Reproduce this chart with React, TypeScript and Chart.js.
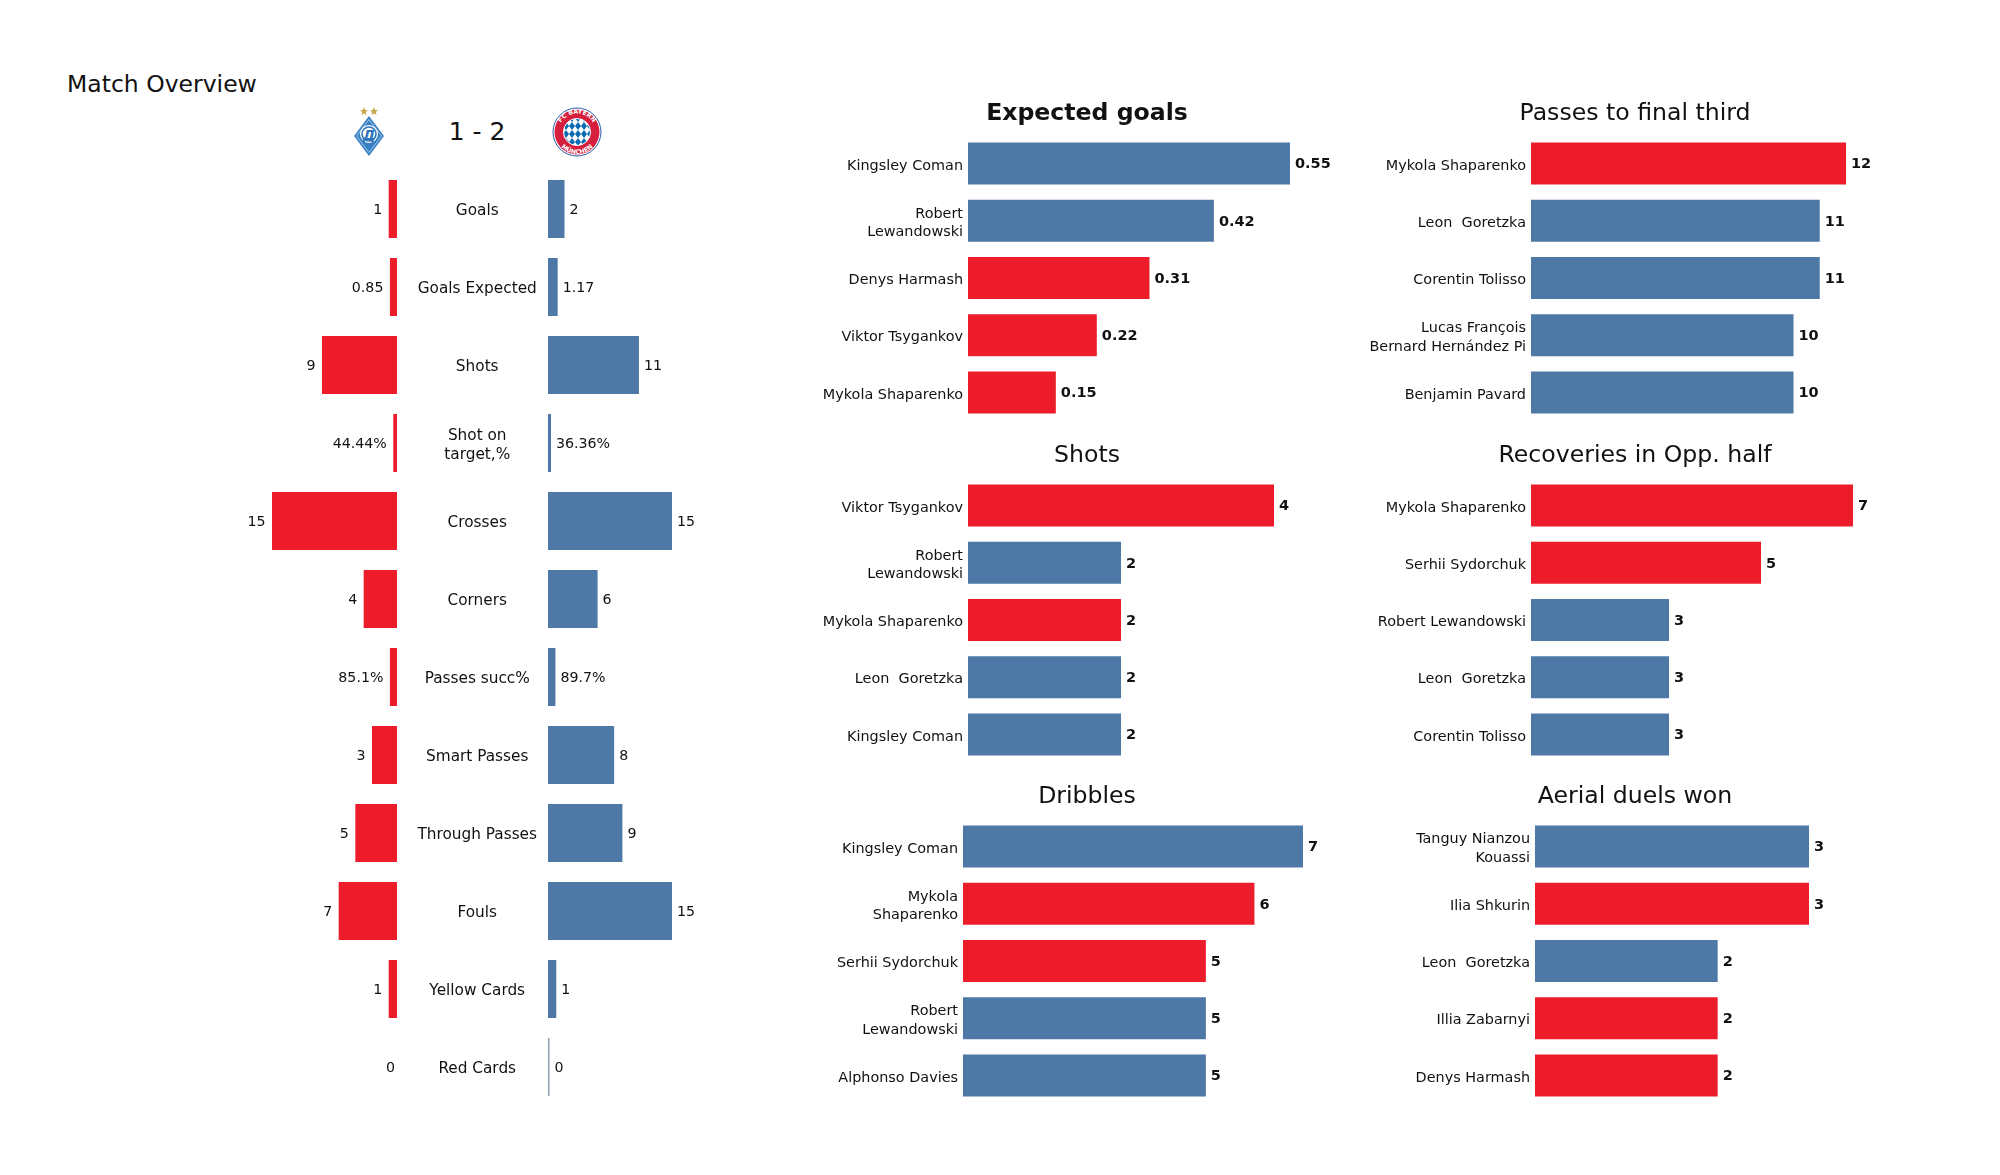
import React, { useEffect, useRef } from "react";
import { Chart, registerables } from "chart.js";

Chart.register(...registerables);

const RED = "#ec1c2b";
const BLUE = "#4e78a6";
const ZERO_LINE = "#8d9db5";
const FONT = "'DejaVu Sans'";

const statLabels: (string | string[])[] = ["Goals", "Goals Expected", "Shots", ["Shot on", "target,%"], "Crosses", "Corners", "Passes succ%", "Smart Passes", "Through Passes", "Fouls", "Yellow Cards", "Red Cards"];
const homeBarValues = [1, 0.85, 9, 0.4444, 15, 4, 0.851, 3, 5, 7, 1, 0];
const awayBarValues = [2, 1.17, 11, 0.3636, 15, 6, 0.897, 8, 9, 15, 1, 0];
const homeTexts = ["1", "0.85", "9", "44.44%", "15", "4", "85.1%", "3", "5", "7", "1", "0"];
const awayTexts = ["2", "1.17", "11", "36.36%", "15", "6", "89.7%", "8", "9", "15", "1", "0"];

const xgNames: (string | string[])[] = ["Kingsley Coman", ["Robert", "Lewandowski"], "Denys Harmash", "Viktor Tsygankov", "Mykola Shaparenko"];
const xgValues = [0.55, 0.42, 0.31, 0.22, 0.15];
const xgTeams = ["a", "a", "h", "h", "h"];

const passNames: (string | string[])[] = ["Mykola Shaparenko", "Leon  Goretzka", "Corentin Tolisso", ["Lucas François", "Bernard Hernández Pi"], "Benjamin Pavard"];
const passValues = [12, 11, 11, 10, 10];
const passTeams = ["h", "a", "a", "a", "a"];

const shotNames: (string | string[])[] = ["Viktor Tsygankov", ["Robert", "Lewandowski"], "Mykola Shaparenko", "Leon  Goretzka", "Kingsley Coman"];
const shotValues = [4, 2, 2, 2, 2];
const shotTeams = ["h", "a", "h", "a", "a"];

const recNames: (string | string[])[] = ["Mykola Shaparenko", "Serhii Sydorchuk", "Robert Lewandowski", "Leon  Goretzka", "Corentin Tolisso"];
const recValues = [7, 5, 3, 3, 3];
const recTeams = ["h", "h", "a", "a", "a"];

const dribNames: (string | string[])[] = ["Kingsley Coman", ["Mykola", "Shaparenko"], "Serhii Sydorchuk", ["Robert", "Lewandowski"], "Alphonso Davies"];
const dribValues = [7, 6, 5, 5, 5];
const dribTeams = ["a", "h", "h", "a", "a"];

const aerialNames: (string | string[])[] = [["Tanguy Nianzou", "Kouassi"], "Ilia Shkurin", "Leon  Goretzka", "Illia Zabarnyi", "Denys Harmash"];
const aerialValues = [3, 3, 2, 2, 2];
const aerialTeams = ["a", "h", "a", "h", "h"];

type Panel = { title: string; bold?: boolean; names: (string | string[])[]; values: number[]; teams: string[]; cx: number; L: number; x0: number; x1: number; top: number };

const PLOT_H = 286;
const ROW = PLOT_H / 5;
const HEAD = 36;
const TITLE_SIZE = 23.6;
const RIGHT_ROOM = 70;

const panels: Panel[] = [
  { title: "Expected goals", bold: true, names: xgNames, values: xgValues, teams: xgTeams, cx: 1087, L: 800, x0: 968, x1: 1290, top: 135 },
  { title: "Passes to final third", names: passNames, values: passValues, teams: passTeams, cx: 1635, L: 1340, x0: 1531, x1: 1846, top: 135 },
  { title: "Shots", names: shotNames, values: shotValues, teams: shotTeams, cx: 1087, L: 800, x0: 968, x1: 1274, top: 477 },
  { title: "Recoveries in Opp. half", names: recNames, values: recValues, teams: recTeams, cx: 1635, L: 1340, x0: 1531, x1: 1853, top: 477 },
  { title: "Dribbles", names: dribNames, values: dribValues, teams: dribTeams, cx: 1087, L: 800, x0: 963, x1: 1303, top: 818 },
  { title: "Aerial duels won", names: aerialNames, values: aerialValues, teams: aerialTeams, cx: 1635, L: 1340, x0: 1535, x1: 1809, top: 818 },
];

const valueLabels = {
  id: "valueLabels",
  afterDatasetsDraw(chart: any, _a: any, opts: any) {
    const { ctx } = chart;
    const meta = chart.getDatasetMeta(0);
    const values = chart.data.datasets[0].data;
    ctx.save();
    ctx.font = `${opts.weight} ${opts.size}px ${FONT}`;
    ctx.fillStyle = "#111";
    ctx.textBaseline = "middle";
    ctx.textAlign = opts.side === "left" ? "right" : "left";
    meta.data.forEach((el: any, i: number) => {
      const gap = opts.side === "left" && values[i] === 0 ? 2 : opts.gap;
      const dx = opts.side === "left" ? -gap : gap;
      ctx.fillText(opts.texts[i], el.x + dx, el.y + 1);
    });
    ctx.restore();
  },
};

const panelTitle = {
  id: "panelTitle",
  afterDraw(chart: any, _a: any, opts: any) {
    if (!opts.text) return;
    const { ctx } = chart;
    ctx.save();
    ctx.font = `${opts.bold ? "bold" : "normal"} ${TITLE_SIZE}px ${FONT}`;
    ctx.fillStyle = "#111";
    ctx.textAlign = "center";
    ctx.textBaseline = "middle";
    ctx.fillText(opts.text, opts.x, opts.y);
    ctx.restore();
  },
};

function makePanel(canvas: HTMLCanvasElement, p: Panel) {
  return new Chart(canvas, {
    type: "bar",
    plugins: [valueLabels, panelTitle],
    data: {
      labels: p.names,
      datasets: [{
        data: p.values,
        backgroundColor: p.teams.map((t) => (t === "h" ? RED : BLUE)),
        barPercentage: 42 / ROW,
        categoryPercentage: 1,
      }],
    },
    options: {
      indexAxis: "y",
      animation: false,
      responsive: false,
      layout: { padding: { left: 0, right: RIGHT_ROOM, top: HEAD, bottom: 0 } },
      plugins: {
        legend: { display: false },
        tooltip: { enabled: false },
        title: { display: false },
        panelTitle: { text: p.title, bold: p.bold, x: p.cx - p.L, y: HEAD - 21.5 },
        valueLabels: { texts: p.values.map(String), side: "right", gap: 5, size: 14.5, weight: "bold" },
      } as any,
      scales: {
        x: { display: false, min: 0, max: Math.max(...p.values) },
        y: {
          afterFit: (s: any) => {
            s.width = p.x0 - p.L;
            s.paddingTop = 0;
            s.paddingBottom = 0;
          },
          grid: { display: false, drawTicks: false },
          border: { display: false },
          ticks: { color: "#111", padding: 5, autoSkip: false, labelOffset: 2.5, font: { family: FONT, size: 14.4, lineHeight: 1.3 } },
        },
      },
    } as any,
  });
}

const STAT_STEP = 78;
const STAT_TOP = 170;
const STAT_H = STAT_STEP * 12;

function makeStat(canvas: HTMLCanvasElement, side: "left" | "right") {
  const isL = side === "left";
  const values = isL ? homeBarValues : awayBarValues;
  return new Chart(canvas, {
    type: "bar",
    plugins: [valueLabels],
    data: {
      labels: statLabels,
      datasets: [{
        data: values,
        backgroundColor: values.map((v) => (v === 0 ? ZERO_LINE : isL ? RED : BLUE)),
        borderWidth: 0,
        minBarLength: isL ? 0 : 1.5,
        barPercentage: 58 / STAT_STEP,
        categoryPercentage: 1,
      }],
    },
    options: {
      indexAxis: "y",
      animation: false,
      responsive: false,
      layout: { padding: isL ? { left: 60, right: 0 } : { left: 0, right: 60 } },
      plugins: {
        legend: { display: false },
        tooltip: { enabled: false },
        valueLabels: { texts: isL ? homeTexts : awayTexts, side, gap: isL ? 6.5 : 5, size: 14.2, weight: "normal" },
      } as any,
      scales: {
        x: { display: false, min: 0, max: 15, reverse: isL },
        y: isL
          ? { display: false }
          : {
              afterFit: (s: any) => {
                s.width = 150;
                s.paddingTop = 0;
                s.paddingBottom = 0;
              },
              grid: { display: false, drawTicks: false },
              border: { display: false },
              ticks: { color: "#111", padding: 11, crossAlign: "center", autoSkip: false, labelOffset: 2.5, font: { family: FONT, size: 15.3, lineHeight: 1.3 } },
            },
      },
    } as any,
  });
}

const box = (l: number, t: number, w: number, h: number): React.CSSProperties => ({ position: "absolute", left: l, top: t, width: w, height: h });

function DynamoLogo() {
  return (
    <svg style={box(350, 104, 38, 54)} viewBox="0 0 38 54">
      <polygon points="14,3 15.2,6 18,6.2 15.8,8 16.6,11 14,9.4 11.4,11 12.2,8 10,6.2 12.8,6" fill="#c9a94f" />
      <polygon points="24,3 25.2,6 28,6.2 25.8,8 26.6,11 24,9.4 21.4,11 22.2,8 20,6.2 22.8,6" fill="#c9a94f" />
      <polygon points="19,12 34,32 19,52 4,32" fill="#3a80c4" />
      <polygon points="19,15.5 31.5,32 19,48.5 6.5,32" fill="none" stroke="#cfe2f3" strokeWidth="0.7" />
      <circle cx="19" cy="30" r="9" fill="#fff" />
      <circle cx="19" cy="30" r="7" fill="none" stroke="#2f74b8" strokeWidth="1.6" />
      <text x="19" y="35.5" textAnchor="middle" fontFamily="DejaVu Sans" fontWeight="bold" fontStyle="italic" fontSize="14" fill="#2f74b8">Д</text>
    </svg>
  );
}

function BayernLogo() {
  return (
    <svg style={box(551, 106, 52, 52)} viewBox="0 0 52 52">
      <defs>
        <pattern id="diam" width="6" height="8" patternUnits="userSpaceOnUse">
          <rect width="6" height="8" fill="#fff" />
          <polygon points="3,0 6,4 3,8 0,4" fill="#0a6bb5" />
        </pattern>
        <path id="arcTop" d="M 7.5 26 A 18.5 18.5 0 0 1 44.5 26" />
        <path id="arcBot" d="M 4 26 A 22 22 0 0 0 48 26" />
      </defs>
      <circle cx="26" cy="26" r="24" fill="#fff" stroke="#2a5ca8" strokeWidth="1" />
      <circle cx="26" cy="26" r="22.5" fill="#d61f3e" />
      <circle cx="26" cy="26" r="13.5" fill="url(#diam)" stroke="#fff" strokeWidth="1" />
      <text fontFamily="DejaVu Sans" fontWeight="bold" fontSize="6.2" fill="#fff">
        <textPath href="#arcTop" startOffset="50%" textAnchor="middle">FC BAYERN</textPath>
      </text>
      <text fontFamily="DejaVu Sans" fontWeight="bold" fontSize="6.2" fill="#fff">
        <textPath href="#arcBot" startOffset="50%" textAnchor="middle">MÜNCHEN</textPath>
      </text>
    </svg>
  );
}

export default function App() {
  const leftRef = useRef<HTMLCanvasElement>(null);
  const rightRef = useRef<HTMLCanvasElement>(null);
  const panelRefs = useRef<(HTMLCanvasElement | null)[]>([]);

  useEffect(() => {
    const charts: Chart[] = [];
    charts.push(makeStat(leftRef.current!, "left"));
    charts.push(makeStat(rightRef.current!, "right"));
    panels.forEach((p, i) => charts.push(makePanel(panelRefs.current[i]!, p)));
    return () => charts.forEach((c) => c.destroy());
  }, []);

  return (
    <div style={{ position: "absolute", left: 0, top: 0, width: 2000, height: 1175, background: "#fff", overflow: "hidden" }}>
      <div style={{ position: "absolute", left: 67, top: 70, font: `23.5px ${FONT}`, color: "#111", lineHeight: "28px", whiteSpace: "nowrap" }}>Match Overview</div>
      <div style={{ position: "absolute", left: 377, width: 200, top: 116, textAlign: "center", font: `25px ${FONT}`, color: "#111", lineHeight: "32px" }}>1 - 2</div>
      <DynamoLogo />
      <BayernLogo />
      <canvas ref={leftRef} width={185} height={STAT_H} style={box(212, STAT_TOP, 185, STAT_H)} />
      <canvas ref={rightRef} width={334} height={STAT_H} style={box(398, STAT_TOP, 334, STAT_H)} />
      {panels.map((p, i) => {
        const w = p.x1 + RIGHT_ROOM - p.L;
        return (
          <canvas
            key={p.title}
            ref={(el) => { panelRefs.current[i] = el; }}
            width={w}
            height={PLOT_H + HEAD}
            style={box(p.L, p.top - HEAD, w, PLOT_H + HEAD)}
          />
        );
      })}
    </div>
  );
}
